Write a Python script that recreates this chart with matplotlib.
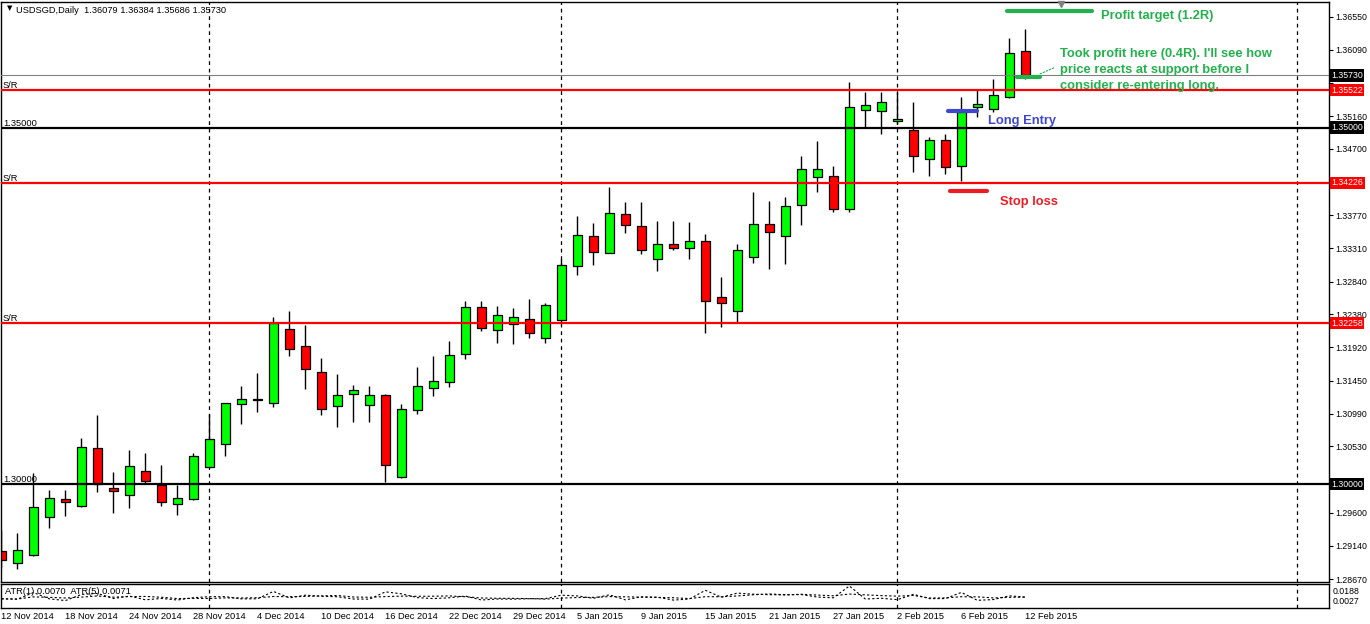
import matplotlib
matplotlib.use("Agg")
import matplotlib.pyplot as plt
import numpy as np
import pandas as pd

plt.rcParams['font.family'] = ['Liberation Sans', 'DejaVu Sans']

# daily USDSGD candles, 12 Nov 2014 .. 12 Feb 2015
opens = [1.29061, 1.28893, 1.29005, 1.29538, 1.29790, 1.29692, 1.30505, 1.29944, 1.29846, 1.30182,
         1.29990, 1.29728, 1.29790, 1.30238, 1.30561, 1.31121, 1.31185, 1.31135, 1.32172, 1.31934,
         1.31570, 1.31093, 1.31261, 1.31107, 1.31247, 1.30098, 1.31037, 1.31345, 1.31430, 1.31826,
         1.32481, 1.32158, 1.32251, 1.32312, 1.32046, 1.32298, 1.33055, 1.33476, 1.33237, 1.33784,
         1.33616, 1.33153, 1.33364, 1.33308, 1.33406, 1.32621, 1.32425, 1.33181, 1.33644, 1.33476,
         1.33910, 1.34303, 1.34317, 1.33854, 1.35242, 1.35228, 1.35087, 1.34966, 1.34563, 1.34821,
         1.34457, 1.35292, 1.35256, 1.35432, 1.36079]
highs = [1.29360, 1.29313, 1.30154, 1.29920, 1.29920, 1.30649, 1.30971, 1.30168, 1.30481, 1.30439,
         1.30270, 1.29990, 1.30434, 1.30981, 1.31146, 1.31378, 1.31556, 1.32349, 1.32429, 1.32237,
         1.31766, 1.31546, 1.31392, 1.31378, 1.31266, 1.31125, 1.31644, 1.31798, 1.32008, 1.32565,
         1.32565, 1.32499, 1.32471, 1.32597, 1.32537, 1.33153, 1.33760, 1.33662, 1.34167, 1.33956,
         1.33956, 1.33690, 1.33690, 1.33676, 1.33508, 1.32901, 1.33368, 1.34092, 1.33966, 1.34022,
         1.34597, 1.34811, 1.34457, 1.35634, 1.35502, 1.35502, 1.35502, 1.35362, 1.34872, 1.34909,
         1.35428, 1.35536, 1.35680, 1.36251, 1.36384]
lows = [1.28827, 1.28817, 1.28995, 1.29392, 1.29560, 1.29682, 1.29896, 1.29602, 1.29672, 1.30004,
        1.29700, 1.29574, 1.29787, 1.30235, 1.30397, 1.30849, 1.31017, 1.31079, 1.31802, 1.31340,
        1.30975, 1.30807, 1.30877, 1.30877, 1.30036, 1.30095, 1.30989, 1.31242, 1.31368, 1.31756,
        1.32148, 1.31985, 1.31971, 1.32055, 1.31985, 1.32256, 1.32938, 1.33078, 1.33235, 1.33526,
        1.33223, 1.32994, 1.33284, 1.33162, 1.32125, 1.32209, 1.32265, 1.33097, 1.33022, 1.33092,
        1.33638, 1.34101, 1.33821, 1.33821, 1.34989, 1.34914, 1.35050, 1.34381, 1.34320, 1.34353,
        1.34255, 1.35152, 1.35222, 1.35418, 1.35686]
closes = [1.28935, 1.29075, 1.29678, 1.29804, 1.29748, 1.30519, 1.30000, 1.29902, 1.30252, 1.30042,
          1.29748, 1.29804, 1.30392, 1.30631, 1.31135, 1.31191, 1.31190, 1.32256, 1.31892, 1.31612,
          1.31051, 1.31247, 1.31317, 1.31247, 1.30266, 1.31051, 1.31373, 1.31448, 1.31808, 1.32481,
          1.32186, 1.32369, 1.32340, 1.32116, 1.32509, 1.33069, 1.33490, 1.33251, 1.33798, 1.33630,
          1.33279, 1.33364, 1.33308, 1.33406, 1.32565, 1.32537, 1.33279, 1.33644, 1.33532, 1.33896,
          1.34415, 1.34415, 1.33854, 1.35284, 1.35312, 1.35354, 1.35120, 1.34597, 1.34821, 1.34443,
          1.35222, 1.35326, 1.35452, 1.36041, 1.35730]

date_labels = ["12 Nov 2014", "18 Nov 2014", "24 Nov 2014", "28 Nov 2014", "4 Dec 2014",
               "10 Dec 2014", "16 Dec 2014", "22 Dec 2014", "29 Dec 2014", "5 Jan 2015",
               "9 Jan 2015", "15 Jan 2015", "21 Jan 2015", "27 Jan 2015", "2 Feb 2015",
               "6 Feb 2015", "12 Feb 2015"]
price_ticks = [1.36550, 1.36090, 1.35620, 1.35160, 1.34700, 1.34240, 1.33770, 1.33310, 1.32840,
               1.32380, 1.31920, 1.31450, 1.30990, 1.30530, 1.30060, 1.29600, 1.29140, 1.28670]
hidden_ticks = [1.35620, 1.34240, 1.30060]   # covered by the price boxes

sr_levels = [1.35522, 1.34226, 1.32258]
round_levels = [1.35000, 1.30000]
last_price = 1.35730
separators = [13, 35, 56, 80.98]   # first bar of each month (last one is in the future)

# trade plan
entry, stop, target, exit_price = 1.35228, 1.34106, 1.36629, 1.35704

GREEN = '#22b14c'
BLUE = '#3f48cc'
RED = '#ed1c24'

o = np.array(opens); h = np.array(highs); l = np.array(lows); c = np.array(closes)
x = np.arange(len(o))

# ATR
prev = pd.Series(c).shift(1)
tr = pd.concat([pd.Series(h), prev], axis=1).max(axis=1) - pd.concat([pd.Series(l), prev], axis=1).min(axis=1)
atr1 = tr.values
atr5 = tr.rolling(5, min_periods=1).mean().values

fig = plt.figure(figsize=(13.7, 6.24), dpi=100)
ax = fig.add_axes([1 / 1370, 1 - 582 / 624, 1328 / 1370, 580 / 624])
ax_atr = fig.add_axes([1 / 1370, 1 - 608 / 624, 1328 / 1370, 24 / 624], sharex=ax)

# candles
up = c >= o
ax.vlines(x, l, h, color='black', lw=1, zorder=1)
body = np.maximum(np.abs(c - o), 0.00003)
ax.bar(x, body, bottom=np.minimum(o, c), width=0.58,
       color=np.where(up, '#00ff00', '#ff0000'), edgecolor='black', linewidth=0.9, zorder=2)

# levels
for lv in sr_levels:
    ax.axhline(lv, color='#ff0000', lw=1.6, zorder=3)
for lv in round_levels:
    ax.axhline(lv, color='black', lw=1.6, zorder=3)
ax.axhline(last_price, color='#808080', lw=0.8, zorder=3)

for s in separators:
    for a in (ax, ax_atr):
        a.axvline(s, color='black', lw=0.9, ls=(0, (3, 3)), zorder=0.5)

ytr = ax.get_yaxis_transform()
for lv in sr_levels:
    ax.text(0.0014, lv, 'S/R', transform=ytr, fontsize=6.7, va='bottom', ha='left')
for lv in round_levels:
    ax.text(0.0014, lv, f'{lv:.5f}', transform=ytr, fontsize=6.7, va='bottom', ha='left')

# price boxes on the scale
boxes = [(last_price, 'black'), (1.35522, '#ff0000'), (1.35000, 'black'),
         (1.34226, '#ff0000'), (1.32258, '#ff0000'), (1.30000, 'black')]
for p, col in boxes:
    ax.text(1.0016, p, f'{p:.5f}', transform=ytr, fontsize=6.3, color='white', ha='left',
            va='center', clip_on=False, zorder=5,
            bbox=dict(boxstyle='square,pad=0.18', fc=col, ec='none'))

# trade annotations
ax.plot([62.86, 68.17], [target, target], color=GREEN, lw=3, solid_capstyle='round', zorder=4)
ax.text(68.73, 1.36521, 'Profit target (1.2R)', color=GREEN, fontsize=9.3, fontweight='bold',
        va='baseline', ha='left')
ax.plot([59.17, 60.98], [entry, entry], color=BLUE, lw=3, solid_capstyle='round', zorder=4)
ax.text(61.67, 1.35050, 'Long Entry', color=BLUE, fontsize=9.3, fontweight='bold',
        va='baseline', ha='left')
ax.plot([59.29, 61.6], [stop, stop], color=RED, lw=3, solid_capstyle='round', zorder=4)
ax.text(62.42, 1.33919, 'Stop loss', color=RED, fontsize=9.3, fontweight='bold',
        va='baseline', ha='left')
ax.plot([63.48, 64.9], [exit_price, exit_price], color=GREEN, lw=3, solid_capstyle='round', zorder=4)
ax.plot([64.9, 65.81], [1.35750, 1.35839], color=GREEN, lw=0.8, ls=(0, (2, 1)), zorder=4)
note = ["Took profit here (0.4R). I'll see how",
        "price reacts at support before I",
        "consider re-entering long."]
for line, yb in zip(note, [1.35984, 1.35760, 1.35536]):
    ax.text(66.17, yb, line, color=GREEN, fontsize=9.3, fontweight='bold',
            va='baseline', ha='left', zorder=4)

# chart shift marker
ax.plot([66.23], [1.36735], marker='v', ms=5, color='#808080', clip_on=False, zorder=5)

ax.text(0.0045, 0.994, '\u25bc', transform=ax.transAxes, fontsize=5, va='top', ha='left',
        family=['DejaVu Sans'])
ax.text(0.0115, 0.993, 'USDSGD,Daily  1.36079 1.36384 1.35686 1.35730',
        transform=ax.transAxes, fontsize=6.7, va='top', ha='left')

ax.set_xlim(-0.03, 82.98)
ax.set_ylim(1.28631, 1.36759)
ax.yaxis.tick_right()
ax.set_yticks(price_ticks)
ax.set_yticklabels(['' if t in hidden_ticks else f'{t:.5f}' for t in price_ticks])
ax.tick_params(axis='y', length=3, width=0.8, pad=1.5, labelsize=6.3)
ax.tick_params(axis='x', bottom=False, labelbottom=False)
for sp in ax.spines.values():
    sp.set_linewidth(1)

# ATR window
ax_atr.plot(x, atr1, color='black', lw=0.8, ls=(0, (2, 2)))
ax_atr.plot(x, atr5, color='black', lw=0.8, ls=(0, (2, 2)))
lo = min(atr1.min(), atr5.min())
hi = max(atr1.max(), atr5.max())
span = (hi - lo) / (0.917 - 0.31)
ax_atr.set_ylim(lo - 0.31 * span, lo - 0.31 * span + span)
ax_atr.set_yticks([])
ax_atr.text(0.003, 0.86, 'ATR(1) 0.0070  ATR(5) 0.0071', transform=ax_atr.transAxes,
            fontsize=6.7, va='top', ha='left')
ax_atr.text(1.003, 0.68, '0.0188', transform=ax_atr.transAxes, fontsize=6.3, va='center', ha='left')
ax_atr.text(1.003, 0.29, '0.0027', transform=ax_atr.transAxes, fontsize=6.3, va='center', ha='left')
ax_atr.set_xticks(np.arange(0, len(o), 4))
ax_atr.set_xticklabels(date_labels)
for lab in ax_atr.get_xticklabels():
    lab.set_ha('left')
ax_atr.tick_params(axis='x', length=0, pad=3, labelsize=6.7)
for sp in ax_atr.spines.values():
    sp.set_linewidth(1)

fig.savefig('out.png', dpi=100)
